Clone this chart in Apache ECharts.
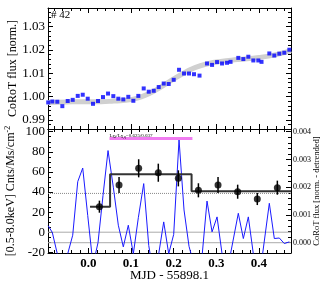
<!DOCTYPE html>
<html><head><meta charset="utf-8">
<script src="https://cdn.jsdelivr.net/npm/echarts@6/dist/echarts.min.js"></script>
<style>html,body{margin:0;padding:0;background:#fff}#c{width:327px;height:287px}</style>
</head><body><div id="c"></div>
<script>
// ---- data ----
const times = [-0.094,-0.0844,-0.0727,-0.0609,-0.0483,-0.0366,-0.0248,-0.0131,-0.0014,0.0110,0.0227,0.0344,0.0462,0.0586,0.0703,0.0820,0.0937,0.1055,0.1172,0.1298,0.1416,0.1533,0.1650,0.1767,0.1884,0.2001,0.2126,0.2243,0.2360,0.2477,0.2606,0.2782,0.2900,0.3017,0.3134,0.3251,0.3333,0.3515,0.3633,0.3750,0.3867,0.3984,0.4059,0.4242,0.4359,0.4476,0.4593,0.4711];
const corotFlux = [0.9975,0.9979,0.9978,0.9959,0.9981,0.9986,1.0003,1.0008,0.9991,0.9969,0.9981,0.9998,1.0013,1.0002,0.9991,0.9988,0.9999,0.9982,1.0003,1.0035,1.0021,1.0025,1.0041,1.0056,1.0054,1.0072,1.0115,1.0099,1.0099,1.0096,1.0090,1.0142,1.0136,1.0148,1.0142,1.0145,1.0149,1.0166,1.0161,1.0171,1.0155,1.0155,1.0149,1.0185,1.0176,1.0184,1.0188,1.0201];
const smoothX = [-0.0945,-0.05,0.0,0.03,0.06,0.1,0.13,0.16,0.19,0.22,0.25,0.28,0.31,0.35,0.40,0.44,0.475];
const smoothY = [0.9975,0.9977,0.9978,0.9978,0.9981,0.9987,1.0003,1.0030,1.0064,1.0097,1.0124,1.0141,1.0151,1.0159,1.0168,1.0180,1.0197];
const detrended = [0.00061,0.00037,-0.0004,-0.0009,-0.0004,0.00027,0.0022,0.00269,0.00098,-0.0008,0.0000,0.0017,0.00332,0.0020,0.00063,-0.00015,0.00063,-0.0004,0.0009,0.00213,-0.0001,-0.0012,-0.0004,0.00075,-0.0004,0.0003,0.00371,0.00118,-0.00013,-0.0008,-0.0015,0.0015,0.00039,0.00093,-0.0004,-0.0009,-0.0004,0.00106,0.00015,0.00093,-0.0004,-0.0009,-0.0007,0.00142,0.00015,0.00017,-0.00003,0.00003];
const xrayX = [0.026,0.072,0.118,0.164,0.211,0.258,0.304,0.350,0.396,0.443];
const xrayRate = [25.4,47,63.6,59.2,53.6,41.7,47,40.3,33,44.3];
const xrayErr = [6,8,9,9,8,7,8,7,6,7];
const blockEdges = [0.004,0.051,0.242,0.475];
const blockLevels = [25.4,57.6,40.7];
const flareSpan = [0.0497,0.244];
const flareLevel = 93.2;
const meanLevel = 38.6;
const xTicks = [0.0,0.1,0.2,0.3,0.4];
const topYTicks = [0.99,1.00,1.01,1.02,1.03];
const botYTicks = [-20,0,20,40,60,80,100];
const rightYTicks = [0.000,0.001,0.002,0.003,0.004];

// ---- layout ----
const X_MIN=-0.0945, X_MAX=0.475;
const TOP_MIN=0.9861, TOP_MAX=1.038;
const BL_MIN=-20.7, BL_MAX=102.7;
const BR_MIN=-0.000371, BR_MAX=0.0040973;
const SERIF='"Liberation Serif","DejaVu Serif",serif';

function seq(a,b,s){const r=[];const n=Math.round((b-a)/s);for(let i=0;i<=n;i++)r.push(+(a+i*s).toFixed(6));return r;}
const xMinor = seq(-0.08,0.46,0.02);
const topYMinor = seq(0.988,1.036,0.002);
const blMinor = seq(-20,100,5);
const brMinor = seq(0,0.004,0.0002);

function ax(grid,pos,min,max,ticks,len,line,label){
  return {type:'value',gridIndex:grid,position:pos,min:min,max:max,scale:true,nameMoveOverlap:false,
    axisLine:{show:line,onZero:false,lineStyle:{color:'#000',width:1}},
    splitLine:{show:false},
    axisTick:{show:true,inside:true,length:len,customValues:ticks,lineStyle:{color:'#000',width:1}},
    axisLabel:label?Object.assign({show:true,customValues:ticks,fontFamily:SERIF,color:'#000'},label):{show:false}};
}
const xAxes=[
  ax(0,'bottom',X_MIN,X_MAX,xTicks,5,true,null),
  ax(0,'bottom',X_MIN,X_MAX,xMinor,3,false,null),
  ax(0,'top',X_MIN,X_MAX,xTicks,5,true,null),
  ax(0,'top',X_MIN,X_MAX,xMinor,3,false,null),
  Object.assign(ax(1,'bottom',X_MIN,X_MAX,xTicks,5,true,{fontSize:13,fontWeight:'bold',margin:4,formatter:v=>v.toFixed(1)}),
    {name:'MJD - 55898.1',nameLocation:'middle',nameGap:16,nameTextStyle:{fontFamily:SERIF,fontSize:13,color:'#000'}}),
  ax(1,'bottom',X_MIN,X_MAX,xMinor,3,false,null),
  ax(1,'top',X_MIN,X_MAX,xTicks,5,true,null),
  ax(1,'top',X_MIN,X_MAX,xMinor,3,false,null)
];
const yAxes=[
  Object.assign(ax(0,'left',TOP_MIN,TOP_MAX,topYTicks,5,true,{fontSize:13,margin:3,formatter:v=>v.toFixed(2)}),
    {name:'CoRoT flux [norm.]',nameLocation:'middle',nameGap:29,nameRotate:90,nameTextStyle:{fontFamily:SERIF,fontSize:12,color:'#000'}}),
  ax(0,'left',TOP_MIN,TOP_MAX,topYMinor,3,false,null),
  ax(0,'right',TOP_MIN,TOP_MAX,topYTicks,5,true,null),
  ax(0,'right',TOP_MIN,TOP_MAX,topYMinor,3,false,null),
  Object.assign(ax(1,'left',BL_MIN,BL_MAX,botYTicks,5,true,{fontSize:13,margin:3,formatter:v=>String(Math.round(v))}),
    {name:'{a|[0.5-8.0keV] Cnts/Ms/cm}{s|-2}',nameLocation:'middle',nameGap:30,nameRotate:90,
     nameTextStyle:{fontFamily:SERIF,fontSize:12,color:'#000',rich:{a:{fontFamily:SERIF,fontSize:12,color:'#000'},s:{fontFamily:SERIF,fontSize:8,color:'#000',verticalAlign:'top',padding:[0,0,6,0]}}}}),
  ax(1,'left',BL_MIN,BL_MAX,blMinor,3,false,null),
  Object.assign(ax(1,'right',BR_MIN,BR_MAX,rightYTicks,5,true,{fontSize:8,margin:2,formatter:v=>v.toFixed(3)}),
    {name:'CoRoT flux [norm. - detrended]',nameLocation:'middle',nameGap:21,nameRotate:90,nameTextStyle:{fontFamily:SERIF,fontSize:8.5,color:'#000'}}),
  ax(1,'right',BR_MIN,BR_MAX,brMinor,3,false,null)
];

const zip=(a,b)=>a.map((v,i)=>[v,b[i]]);
const stepPts=[];
blockLevels.forEach((l,i)=>{stepPts.push([blockEdges[i],l]);stepPts.push([blockEdges[i+1],l]);});
const hline=(y,xi,yi,color,type,w,z)=>({type:'line',xAxisIndex:xi,yAxisIndex:yi,data:[[X_MIN,y],[X_MAX,y]],showSymbol:false,silent:true,z:z||1,
  lineStyle:{color:color,width:w||1,type:type||'solid'}});

const chart=echarts.init(document.getElementById('c'),null,{renderer:'canvas'});
chart.setOption({
  animation:false,
  backgroundColor:'#fff',
  grid:[{left:48,top:8,width:243,height:121,outerBoundsMode:'none',containLabel:false},
        {left:48,top:129,width:243,height:124,outerBoundsMode:'none',containLabel:false}],
  xAxis:xAxes, yAxis:yAxes,
  graphic:[{type:'text',left:51,top:10,style:{text:'# 42',fontFamily:SERIF,fontSize:11,fill:'#000'}}],
  series:[
    {type:'line',xAxisIndex:0,yAxisIndex:0,data:zip(smoothX,smoothY),smooth:true,showSymbol:false,lineStyle:{color:'#d0d0d0',width:5},z:1},
    {type:'scatter',xAxisIndex:0,yAxisIndex:0,data:zip(times,corotFlux),symbol:'rect',symbolSize:4,itemStyle:{color:'#0000ff'},z:3},
    hline(0,4,4,'#aaaaaa','solid',1,1),
    hline(0,4,6,'#aaaaaa','solid',1,1),
    hline(meanLevel,4,4,'#888888','dotted',1,1),
    {type:'line',xAxisIndex:4,yAxisIndex:6,data:zip(times,detrended),showSymbol:false,clip:true,lineStyle:{color:'#1a1aff',width:1},z:2},
    {type:'line',xAxisIndex:4,yAxisIndex:4,data:stepPts,showSymbol:false,lineStyle:{color:'#333',width:2},z:3},
    {type:'line',xAxisIndex:4,yAxisIndex:4,data:[
        {value:[flareSpan[0],flareLevel],label:{show:true,position:'top',align:'left',offset:[0,1],distance:0,color:'#000',
          formatter:'{a|L}{b|Xf}{a|/L}{b|X,q}{a|=0.625/0.037}',
          rich:{a:{fontFamily:SERIF,fontSize:5,color:'#000'},b:{fontFamily:SERIF,fontSize:3.5,color:'#000',verticalAlign:'bottom',padding:[3,0,0,0]}}}},
        [flareSpan[1],flareLevel]],
      symbol:'circle',symbolSize:0,showSymbol:true,lineStyle:{color:'#f07cf0',width:3},itemStyle:{color:'#f07cf0'},z:3},
    {type:'custom',xAxisIndex:4,yAxisIndex:4,data:xrayX.map((x,i)=>[x,xrayRate[i],xrayErr[i]]),encode:{x:0,y:1},z:4,
      renderItem:(params,api)=>{const x=api.value(0),y=api.value(1),e=api.value(2);
        const p1=api.coord([x,y-e]),p2=api.coord([x,y+e]);
        return {type:'line',shape:{x1:p1[0],y1:p1[1],x2:p2[0],y2:p2[1]},style:{stroke:'#000',lineWidth:1.5}};}},
    {type:'scatter',xAxisIndex:4,yAxisIndex:4,data:zip(xrayX,xrayRate),symbol:'circle',symbolSize:7,itemStyle:{color:'#000'},z:5}
  ]
});
</script></body></html>
